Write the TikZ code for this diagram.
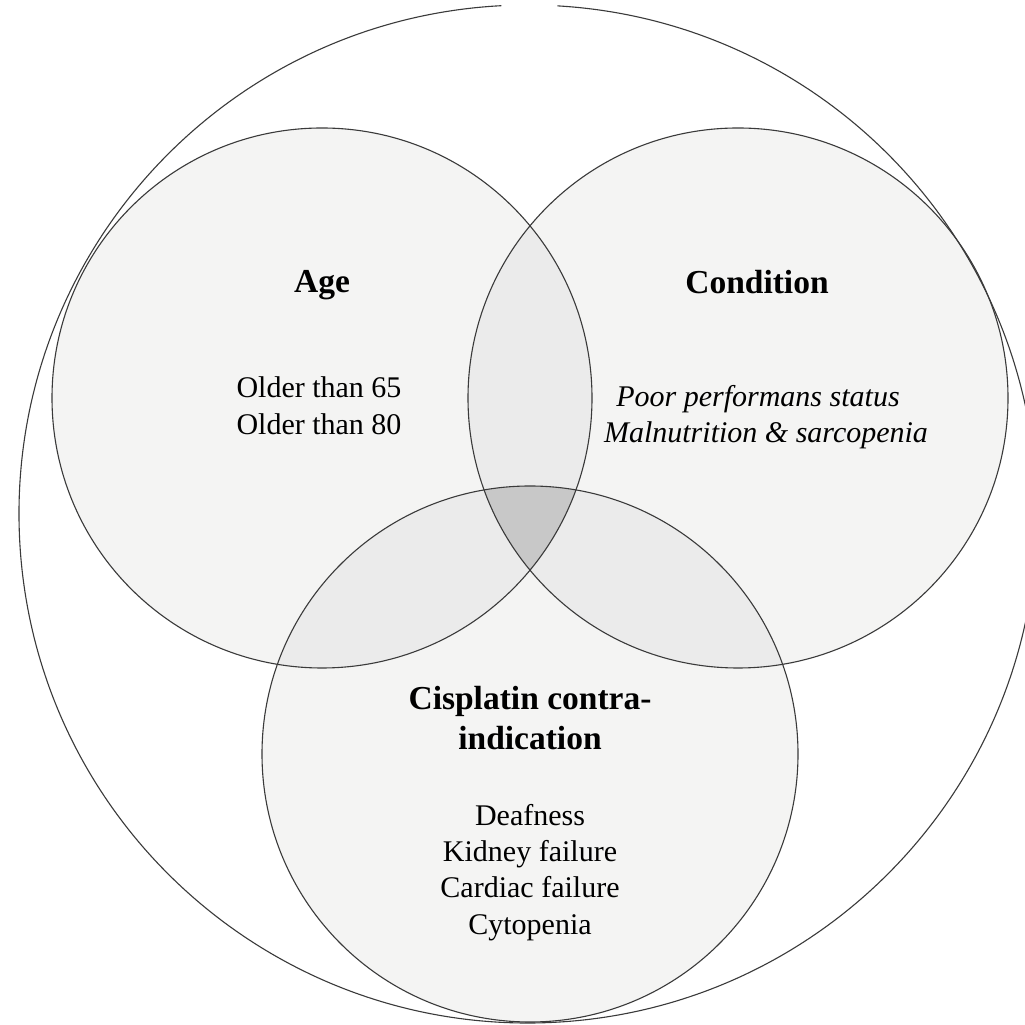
\documentclass[tikz,border=0pt]{standalone}
\usepackage{fontspec}
\setmainfont{Liberation Serif}
\definecolor{single}{HTML}{F4F4F3}
\definecolor{pairfill}{HTML}{EBEBEB}
\definecolor{triplefill}{HTML}{C8C8C8}
\definecolor{edgecol}{HTML}{3A3A3A}
\begin{document}
\begin{tikzpicture}[x=1pt,y=1pt,
  outline/.style={draw=edgecol,line width=1.1pt},
  head/.style={font=\fontsize{33.5}{40}\selectfont\bfseries, anchor=base, inner sep=0pt},
  body/.style={font=\fontsize{30}{36}\selectfont, anchor=base, inner sep=0pt},
  bodyit/.style={font=\fontsize{30}{36}\selectfont\itshape, anchor=base, inner sep=0pt}]
\useasboundingbox (0,0) rectangle (1025,1025);
\clip (0,0) rectangle (1025,1025);
\fill[white] (0,0) rectangle (1025,1025);
\coordinate (cO) at (528,511);
\coordinate (cA) at (322,627);
\coordinate (cB) at (738,627);
\coordinate (cC) at (530,271);
% single fills
\fill[single] (cA) circle[radius=270pt];
\fill[single] (cB) circle[radius=270pt];
\fill[single] (cC) circle[radius=268pt];
% pair overlaps
\begin{scope}
  \clip (cA) circle[radius=270pt];
  \fill[pairfill] (cB) circle[radius=270pt];
  \fill[pairfill] (cC) circle[radius=268pt];
\end{scope}
\begin{scope}
  \clip (cB) circle[radius=270pt];
  \fill[pairfill] (cC) circle[radius=268pt];
\end{scope}
% triple overlap
\begin{scope}
  \clip (cA) circle[radius=270pt];
  \clip (cB) circle[radius=270pt];
  \fill[triplefill] (cC) circle[radius=268pt];
\end{scope}
% outlines
\draw[outline] (cO) ++(93:509pt) arc[start angle=93, end angle=446.7, radius=509pt];
\draw[outline] (cA) circle[radius=270pt];
\draw[outline] (cB) circle[radius=270pt];
\draw[outline] (cC) circle[radius=268pt];
% texts
\node[head] (age) at (322,732) {Age};
\node[body] (age1) at (319,627) {Older than 65};
\node[body] (age2) at (319,590) {Older than 80};
\node[head] (cond) at (757,731) {Condition};
\node[bodyit] (cond1) at (758,618) {Poor performans status};
\node[bodyit] (cond2) at (766,582) {Malnutrition \& sarcopenia};
\node[head] (cis1) at (530,315) {Cisplatin contra-};
\node[head] (cis2) at (530,275) {indication};
\node[body] (cis3) at (530,199) {Deafness};
\node[body] (cis4) at (530,163) {Kidney failure};
\node[body] (cis5) at (530,127) {Cardiac failure};
\node[body] (cis6) at (530,90) {Cytopenia};
\end{tikzpicture}
\end{document}
